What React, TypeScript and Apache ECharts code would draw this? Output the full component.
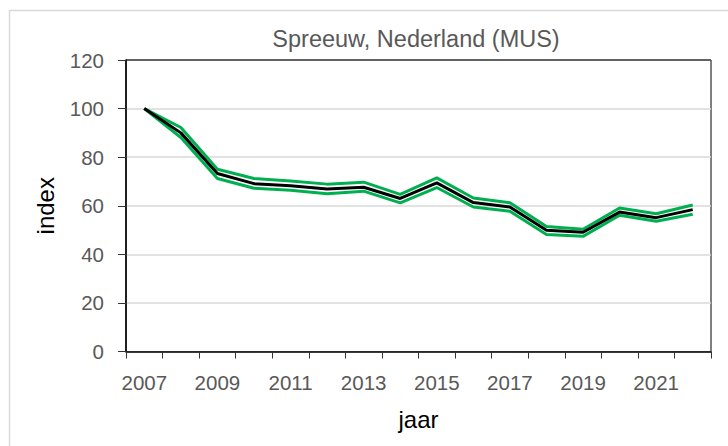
import React, { useEffect, useRef } from "react";
import * as echarts from "echarts";

const years = ["2007","2008","2009","2010","2011","2012","2013","2014","2015","2016","2017","2018","2019","2020","2021","2022"];
const indexValues = [100, 90.0, 73.3, 69.1, 68.2, 66.9, 67.6, 63.0, 69.4, 61.3, 59.5, 49.9, 49.1, 57.4, 55.1, 58.4];
const upperValues = [100, 92.2, 75.0, 71.2, 70.2, 68.9, 69.7, 64.7, 71.5, 63.2, 61.2, 51.5, 50.3, 59.1, 56.7, 60.3];
const lowerValues = [100, 88.1, 71.2, 67.2, 66.4, 64.9, 66.0, 61.2, 67.5, 59.5, 57.7, 48.2, 47.4, 56.1, 53.6, 56.5];

const FONT = "'Liberation Sans', Arial, sans-serif";
const TXT = "#595959";
const GREEN = "#00b050";

export default function App() {
  const ref = useRef<HTMLDivElement>(null);
  useEffect(() => {
    document.body.style.margin = "0";
    const chart = echarts.init(ref.current!, null, { renderer: "svg" });
    chart.setOption({
      animation: false,
      backgroundColor: "#ffffff",
      textStyle: { fontFamily: FONT },
      title: {
        text: "Spreeuw, Nederland (MUS)",
        left: 416,
        top: 27,
        textAlign: "center",
        padding: 0,
        textStyle: { fontFamily: FONT, fontSize: 23.5, fontWeight: "normal", color: TXT },
      },
      graphic: [
        {
          type: "rect",
          shape: { x: 9.5, y: 10.5, width: 740, height: 460 },
          style: { fill: "none", stroke: "#d9d9d9", lineWidth: 1.5 },
          silent: true,
        },
      ],
      grid: {
        left: 126,
        right: 17,
        top: 60,
        bottom: 94.5,
        show: true,
        borderColor: "#000",
        borderWidth: 1,
        backgroundColor: "transparent",
      },
      xAxis: {
        type: "category",
        data: years,
        boundaryGap: true,
        name: "jaar",
        nameLocation: "middle",
        nameGap: 56,
        nameTextStyle: { fontFamily: FONT, fontSize: 24, color: "#000" },
        axisLine: { lineStyle: { color: "#000", width: 1.5 } },
        axisTick: { show: true, interval: 0, length: 7, lineStyle: { color: "#333" } },
        axisLabel: { interval: 1, margin: 20, fontFamily: FONT, fontSize: 20.5, color: TXT },
        splitLine: { show: false },
      },
      yAxis: {
        type: "value",
        min: 0,
        max: 120,
        interval: 20,
        name: "index",
        nameLocation: "middle",
        nameGap: 69,
        nameRotate: 90,
        nameTextStyle: { fontFamily: FONT, fontSize: 24, color: "#000" },
        axisLine: { show: true, lineStyle: { color: "#000", width: 1.5 } },
        axisTick: { show: true, length: 8, lineStyle: { color: "#333" } },
        axisLabel: { margin: 22, fontFamily: FONT, fontSize: 20.5, color: TXT },
        splitLine: {
          show: true,
          lineStyle: {
            color: ["#d9d9d9", "#d9d9d9", "#d9d9d9", "#d9d9d9", "#d9d9d9", "#d9d9d9", "#595959"],
            width: 1.5,
          },
        },
      },
      series: [
        {
          name: "upper",
          type: "line",
          data: upperValues,
          symbol: "none",
          lineStyle: { color: GREEN, width: 3 },
          z: 2,
        },
        {
          name: "lower",
          type: "line",
          data: lowerValues,
          symbol: "none",
          lineStyle: { color: GREEN, width: 3 },
          z: 2,
        },
        {
          name: "index",
          type: "line",
          data: indexValues,
          symbol: "none",
          lineStyle: { color: "#000", width: 3 },
          z: 3,
        },
      ],
    });
    return () => chart.dispose();
  }, []);
  return <div ref={ref} style={{ width: 728, height: 446 }} />;
}
